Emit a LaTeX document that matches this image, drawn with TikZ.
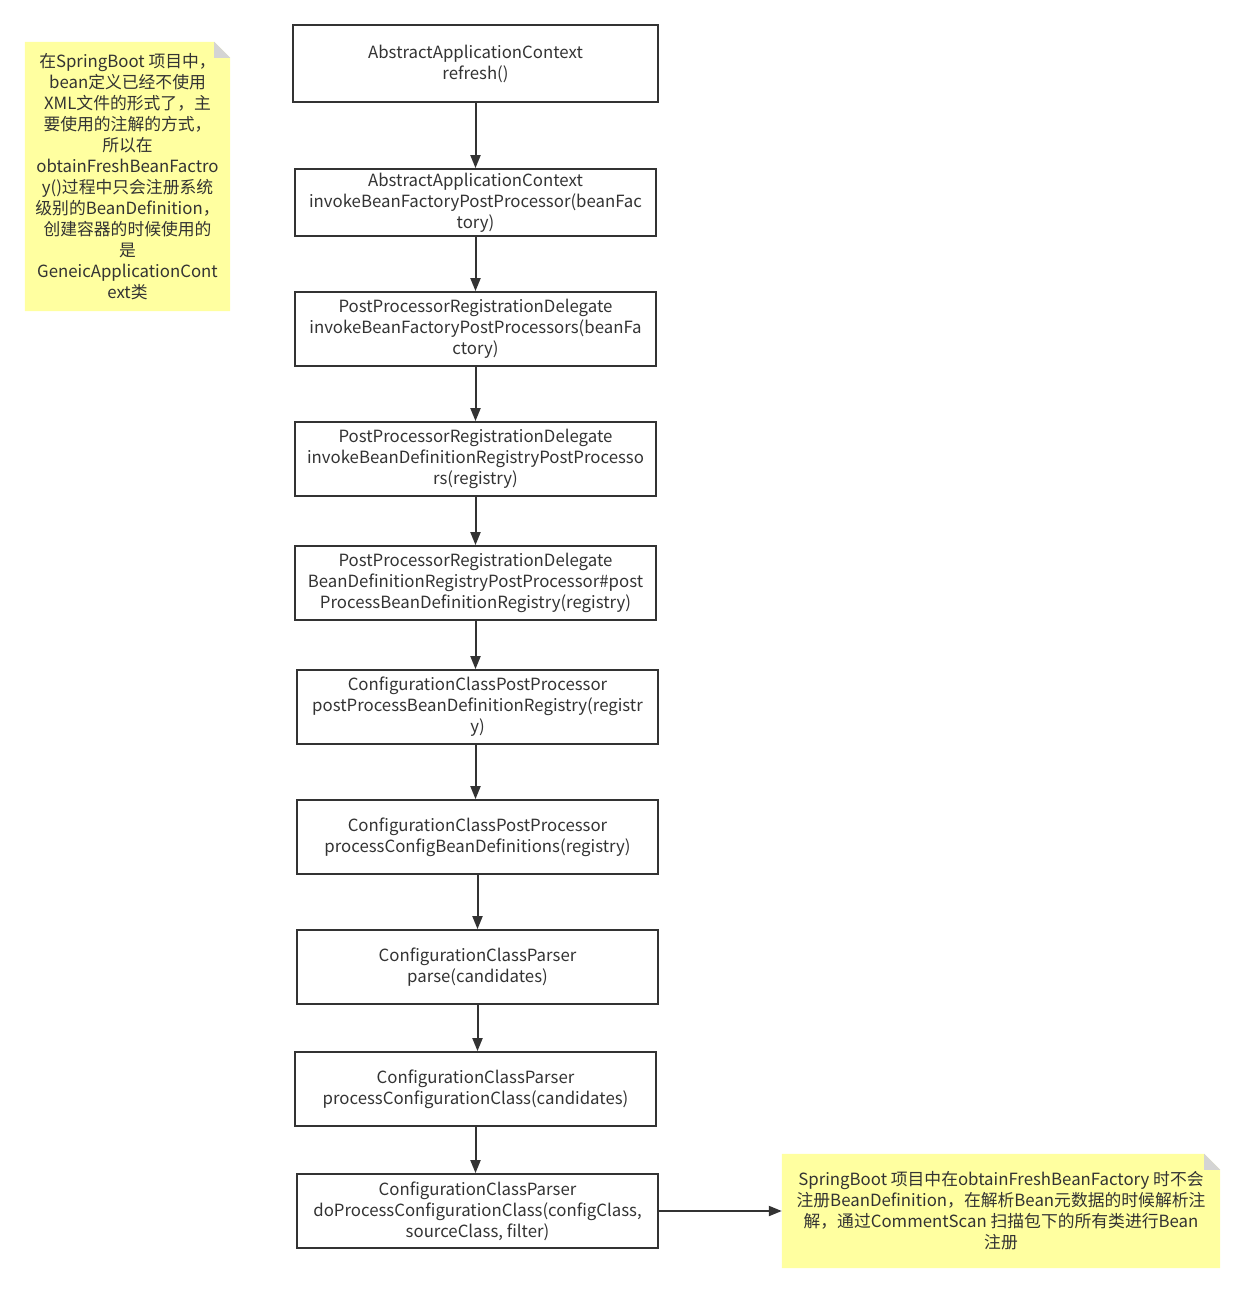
\documentclass[tikz,border=0pt]{standalone}
\usepackage{fontspec}
\setmainfont{Noto Sans CJK SC}
\usepackage{xcolor}
\usepackage{tikz}
\usetikzlibrary{arrows.meta, backgrounds}
\definecolor{mygray}{RGB}{51,51,51}
\definecolor{myyellow}{RGB}{255,255,160}
\definecolor{myfold}{RGB}{212,212,212}
\tikzstyle{process} = [rectangle, minimum width=361pt, minimum height=74pt, inner sep=0pt, align=center, draw=mygray, line width=1.8pt, text=mygray]
\tikzstyle{notebox} = [rectangle, inner sep=0pt, align=center, text=mygray]
\tikzstyle{arrow} = [line width=2pt, draw=mygray, -{Triangle[length=13pt, width=10pt]}]

\begin{document}
\begin{tikzpicture}[x=1pt, y=-1pt, font=\fontsize{16.8}{21}\selectfont]
    \useasboundingbox (0,0) rectangle (1245,1293);
    % call chain
    \node (refresh) [process, minimum width=365pt, minimum height=77pt] at (475.5,63.5) {AbstractApplicationContext\\refresh()};
    \node (invoke) [process, minimum height=67pt] at (475.5,202.5) {AbstractApplicationContext\\invokeBeanFactoryPostProcessor(beanFac\\tory)};
    \node (delegateA) [process] at (475.5,329) {PostProcessorRegistrationDelegate\\invokeBeanFactoryPostProcessors(beanFa\\ctory)};
    \node (delegateB) [process] at (475.5,459) {PostProcessorRegistrationDelegate\\invokeBeanDefinitionRegistryPostProcesso\\rs(registry)};
    \node (delegateC) [process] at (475.5,583) {PostProcessorRegistrationDelegate\\BeanDefinitionRegistryPostProcessor\#post\\ProcessBeanDefinitionRegistry(registry)};
    \node (postproc) [process] at (477.5,707) {ConfigurationClassPostProcessor\\postProcessBeanDefinitionRegistry(registr\\y)};
    \node (procconf) [process] at (477.5,837) {ConfigurationClassPostProcessor\\processConfigBeanDefinitions(registry)};
    \node (parse) [process] at (477.5,967) {ConfigurationClassParser\\parse(candidates)};
    \node (parseclass) [process] at (475.5,1089) {ConfigurationClassParser\\processConfigurationClass(candidates)};
    \node (doparse) [process] at (477.5,1211) {ConfigurationClassParser\\doProcessConfigurationClass(configClass,\\sourceClass, filter)};

    % notes
    \node (noteA) [notebox, minimum width=205pt, minimum height=269pt] at (127.5,176.5) {在SpringBoot 项目中，\\bean定义已经不使用\\XML文件的形式了，主\\要使用的注解的方式，\\所以在\\obtainFreshBeanFactro\\y()过程中只会注册系统\\级别的BeanDefinition，\\创建容器的时候使用的\\是\\GeneicApplicationCont\\ext类};
    \node (noteB) [notebox, minimum width=438pt, minimum height=114pt] at (1001,1211) {SpringBoot 项目中在obtainFreshBeanFactory 时不会\\注册BeanDefinition，在解析Bean元数据的时候解析注\\解，通过CommentScan 扫描包下的所有类进行Bean\\注册};
    \begin{scope}[on background layer]
        \foreach \n in {noteA, noteB} {
            \fill[myyellow] (\n.south west) -- (\n.north west) -- ([xshift=-16pt]\n.north east) -- ([yshift=-16pt]\n.north east) -- (\n.south east) -- cycle;
            \fill[myfold] ([xshift=-16pt]\n.north east) -- ([xshift=-16pt, yshift=-16pt]\n.north east) -- ([yshift=-16pt]\n.north east) -- cycle;
        }
    \end{scope}

    \draw [arrow] (refresh.south) -- (refresh.south |- invoke.north);
    \draw [arrow] (invoke.south) -- (invoke.south |- delegateA.north);
    \draw [arrow] (delegateA.south) -- (delegateA.south |- delegateB.north);
    \draw [arrow] (delegateB.south) -- (delegateB.south |- delegateC.north);
    \draw [arrow] (delegateC.south) -- (delegateC.south |- postproc.north);
    \draw [arrow] ([xshift=-2pt]postproc.south) -- ([xshift=-2pt]postproc.south |- procconf.north);
    \draw [arrow] (procconf.south) -- (procconf.south |- parse.north);
    \draw [arrow] (parse.south) -- (parse.south |- parseclass.north);
    \draw [arrow] (parseclass.south) -- (parseclass.south |- doparse.north);
    \draw [arrow] (doparse.east) -- (noteB.west);
\end{tikzpicture}
\end{document}
